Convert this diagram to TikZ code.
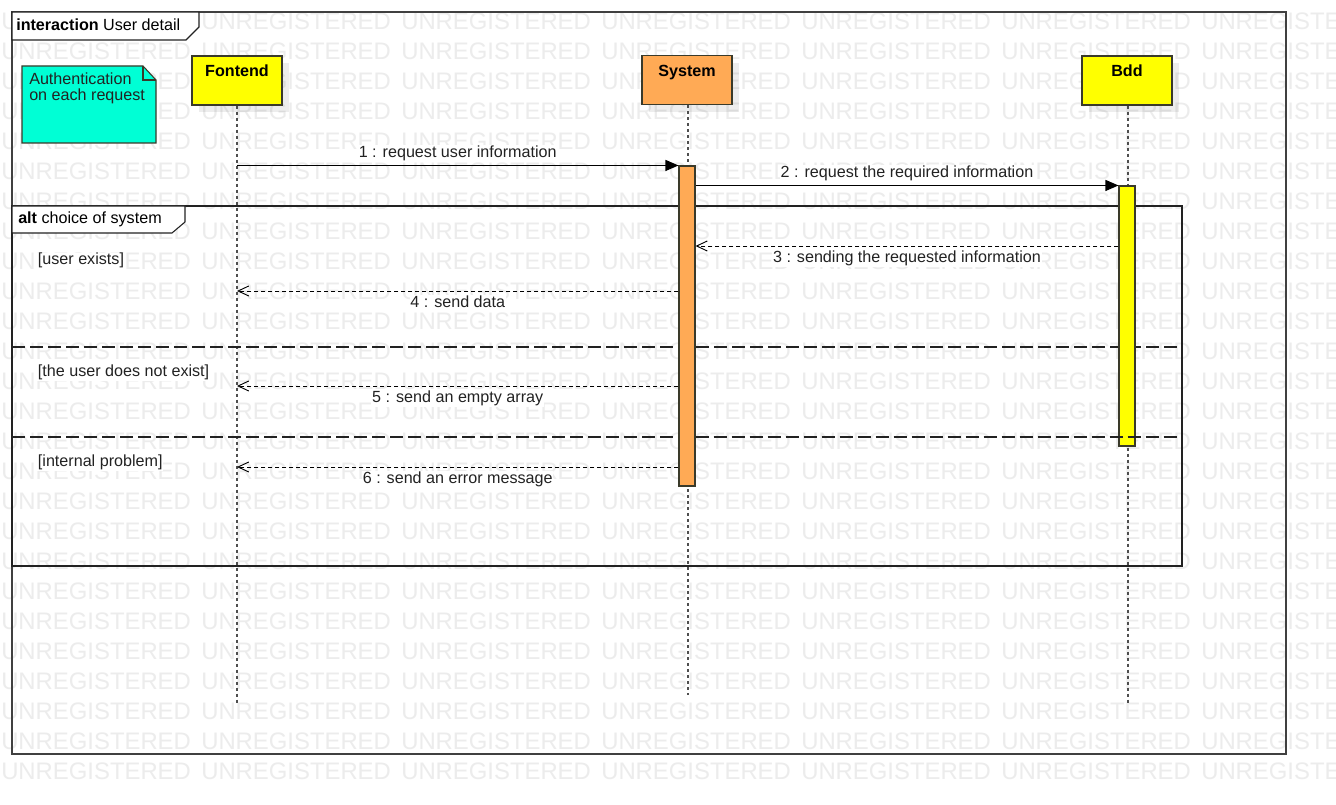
\documentclass[tikz,border=0pt]{standalone}
\usepackage{fontspec}
\setmainfont{Liberation Sans}
\usetikzlibrary{arrows.meta,shadows}

\definecolor{wmgray}{HTML}{ECECEC}
\definecolor{partyellow}{HTML}{FFFF00}
\definecolor{partorange}{HTML}{FFAA55}
\definecolor{notecyan}{HTML}{00FFD5}
\definecolor{inkdark}{HTML}{222222}
\definecolor{boxedge}{HTML}{3A3A2A}

\newcommand\umlfont{\fontsize{12.1pt}{14.5pt}\selectfont}

\tikzset{
  watermark/.style={font=\fontsize{17.9pt}{20pt}\selectfont, text=wmgray,
    anchor=base west, inner sep=0pt},
  participant/.style={draw=boxedge, line width=0.9pt, minimum width=67.5pt,
    minimum height=36.75pt, inner sep=0pt,
    drop shadow={shadow xshift=5.5pt, shadow yshift=-5.5pt, fill=black, opacity=0.07}},
  partname/.style={font=\umlfont\bfseries, anchor=base, inner sep=0pt, text=black},
  lifeline/.style={draw=inkdark!80, line width=0.8pt, dash pattern=on 2.25pt off 2.25pt},
  actbar/.style={draw=boxedge, line width=0.8pt, minimum width=12pt, inner sep=0pt},
  call/.style={draw=black, line width=0.8pt, -{Triangle[length=9.75pt,width=8.25pt]}},
  reply/.style={draw=black, line width=0.7pt, dash pattern=on 3pt off 2.25pt,
    -{Straight Barb[length=8pt,width=7.5pt,line width=0.7pt]}},
  msglabel/.style={font=\umlfont, fill=white, inner sep=0.6pt, anchor=base, midway, text=inkdark},
  msgabove/.style={msglabel, yshift=6.2pt},
  msgbelow/.style={msglabel, yshift=-12.4pt},
  guardtext/.style={font=\umlfont, fill=white, inner sep=0.5pt, anchor=base west, text=inkdark},
  notetext/.style={font=\umlfont, anchor=base west, inner sep=0pt, text=inkdark},
  frameline/.style={draw=inkdark, line width=0.8pt},
  separator/.style={draw=inkdark, line width=0.8pt, dash pattern=on 9.75pt off 3.75pt},
}

\begin{document}
\begin{tikzpicture}[x=0.75pt, y=-0.75pt, font=\umlfont]
\useasboundingbox (0,0) rectangle (1336,805);
\fill[white] (0,0) rectangle (1336,805);

% repeated background stamp
\begin{scope}
  \clip (0,0) rectangle (1336,805);
  \foreach \r in {0,...,25}{
    \foreach \c in {0,...,6}{
      \node[watermark] (wm-\r-\c) at ({\c*200+1},{29.5+\r*30}) {UNREGISTERED};
    }
  }
\end{scope}

% outer interaction frame
\draw[draw=black!75, line width=1.1pt] (12,12) rectangle (1286,754);
\draw[frameline, fill=white] (12,12) -- (199,12) -- (199,27) -- (186,40) -- (12,40) -- cycle;
\node[anchor=base west, inner sep=0pt] (frame-title) at (16,31) {\textbf{interaction} User detail};

% note
\draw[draw=boxedge, line width=0.8pt, fill=notecyan]
  (22,66) -- (143,66) -- (156,80) -- (156,143) -- (22,143) -- cycle;
\draw[draw=boxedge, line width=0.8pt] (143,66) -- (143,80) -- (156,80);
\node[notetext] (note-line1) at (29,85) {Authentication};
\node[notetext] (note-line2) at (29,100.5) {on each request};

% participants
\node[participant, fill=partyellow] (fontend) at (237,80.5) {};
\node[participant, fill=partorange] (system) at (687,80) {};
\node[participant, fill=partyellow] (bdd) at (1127,80.5) {};
\node[partname] (fontend-name) at (237,77) {Fontend};
\node[partname] (system-name) at (687,77) {System};
\node[partname] (bdd-name) at (1127,77) {Bdd};

% lifeline ends
\coordinate (fontend-end) at (237,703);
\coordinate (system-end) at (688,695);
\coordinate (bdd-end) at (1128,703);

\draw[lifeline] (fontend.south) -- (fontend-end);
\draw[lifeline] ([xshift=0.75pt]system.south) -- (system-end);
\draw[lifeline] ([xshift=0.75pt]bdd.south) -- (bdd-end);

% alt combined fragment
\draw[frameline] (12,206) rectangle (1182,566);
\draw[frameline, fill=white] (12,206) -- (185,206) -- (185,222) -- (172,233) -- (12,233) -- cycle;
\node[anchor=base west, inner sep=0pt] (alt-title) at (18,224) {\textbf{alt} choice of system};
\coordinate (sep1-l) at (12,347);
\coordinate (sep1-r) at (1182,347);
\coordinate (sep2-l) at (12,437);
\coordinate (sep2-r) at (1182,437);
\draw[separator] (sep1-l) -- (sep1-r);
\draw[separator] (sep2-l) -- (sep2-r);
\node[guardtext] (guard1) at (37,265) {[user exists]};
\node[guardtext] (guard2) at (37,377) {[the user does not exist]};
\node[guardtext] (guard3) at (37,467) {[internal problem]};

% activations
\node[actbar, fill=partorange, minimum height=240pt] (sysact) at (687,326) {};
\node[actbar, fill=partyellow, minimum height=195pt] (bddact) at (1127,316) {};
\draw[separator] (sysact.east |- sep2-l) -- (sep2-r);

% message rows
\coordinate (row3) at (0,246);
\coordinate (row4) at (0,291);
\coordinate (row5) at (0,386);
\coordinate (row6) at (0,467);

\draw[call] (fontend.south |- sysact.north west) -- (sysact.north west)
  node[msgabove] (m1) {1 : request user information};
\draw[call] (sysact.east |- bddact.north) -- (bddact.north west)
  node[msgabove] (m2) {2 : request the required information};
\draw[reply] (bddact.west |- row3) -- (sysact.east |- row3)
  node[msgbelow] (m3) {3 : sending the requested information};
\draw[reply] (sysact.west |- row4) -- (fontend.south |- row4)
  node[msgbelow] (m4) {4 : send data};
\draw[reply] (sysact.west |- row5) -- (fontend.south |- row5)
  node[msgbelow] (m5) {5 : send an empty array};
\draw[reply] (sysact.west |- row6) -- (fontend.south |- row6)
  node[msgbelow] (m6) {6 : send an error message};
\end{tikzpicture}
\end{document}
